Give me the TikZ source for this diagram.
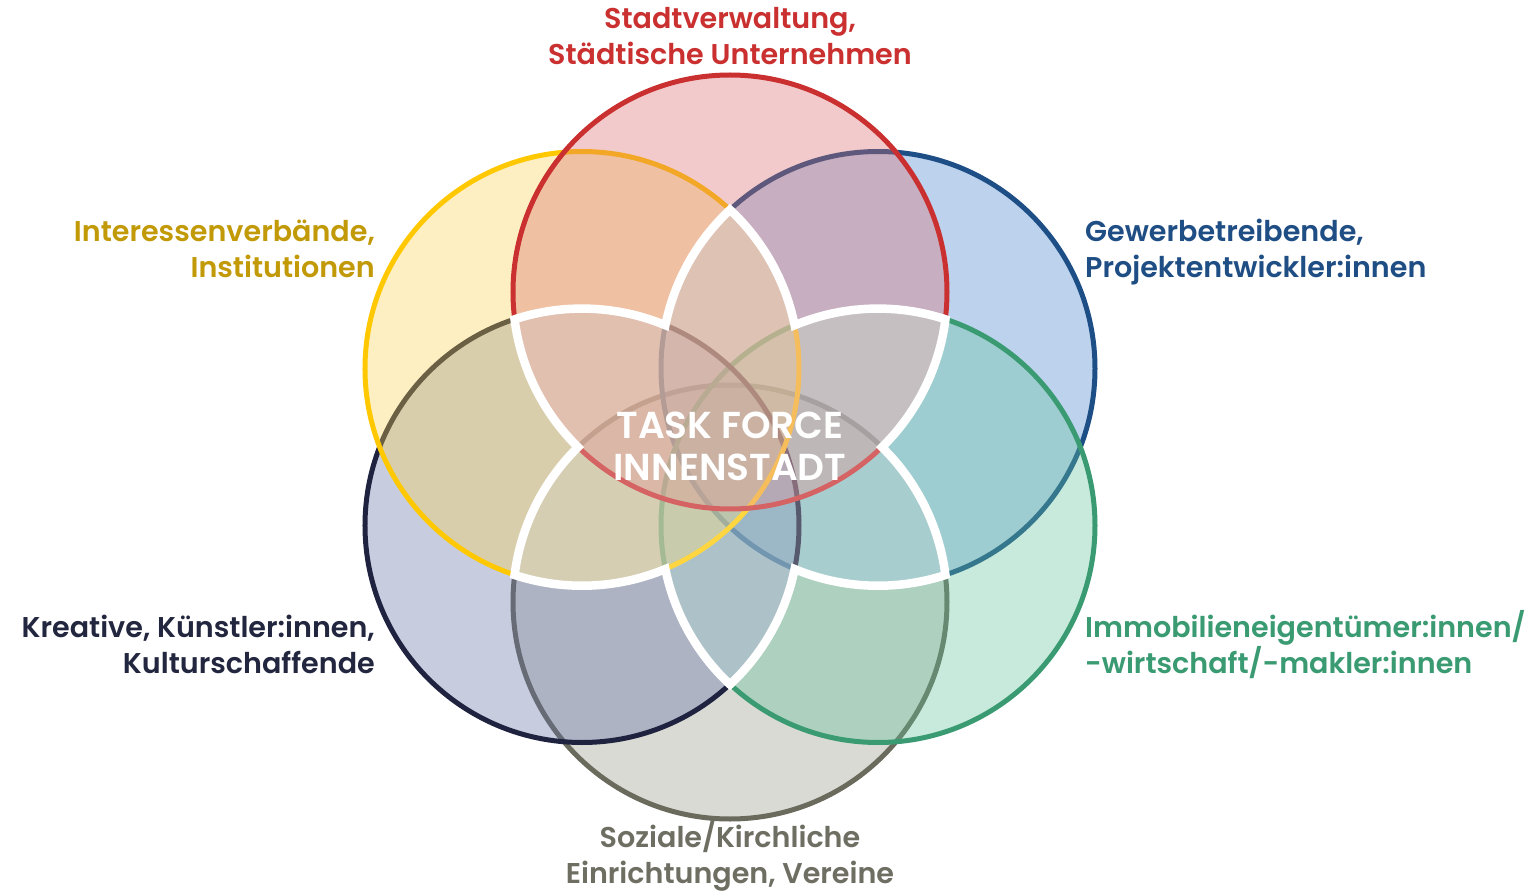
\documentclass[tikz,border=0pt]{standalone}
\usepackage{fontspec}
\newfontfamily\lab{Poppins SemiBold}
\newfontfamily\ctr{Poppins SemiBold}
\definecolor{redL}{RGB}{201,48,47}
\definecolor{yelL}{RGB}{255,200,0}
\definecolor{bluL}{RGB}{29,79,134}
\definecolor{grnL}{RGB}{58,155,114}
\definecolor{gryL}{RGB}{106,107,93}
\definecolor{navL}{RGB}{31,35,64}
\definecolor{redF}{RGB}{218,106,109}
\definecolor{yelF}{RGB}{252,212,78}
\definecolor{bluF}{RGB}{66,129,206}
\definecolor{grnF}{RGB}{98,195,155}
\definecolor{gryF}{RGB}{144,149,129}
\definecolor{navF}{RGB}{95,109,166}
\definecolor{yelT}{RGB}{194,154,8}
\definecolor{bluT}{RGB}{31,78,133}
\definecolor{gryT}{RGB}{110,111,98}
\definecolor{navT}{RGB}{34,38,62}
\begin{document}
\begin{tikzpicture}[x=1pt,y=1pt,
  ring/.style={circle, minimum size=434pt, inner sep=0pt, line width=5pt, fill opacity=0.35, draw opacity=1},
  lbl/.style={inner sep=0pt, font=\lab\fontsize{28.6}{36}\selectfont},
  starline/.style={draw=white, line width=8.5pt, line join=miter, fill=white, fill opacity=0.25, draw opacity=1}]
\useasboundingbox (-730,-447) rectangle (795,447);
\fill[white] (-730,-447) rectangle (795,447);
% circles (drawn bottom to top)
\node[ring, draw=gryL, fill=gryF] (grey)   at (0,-155) {};
\node[ring, draw=bluL, fill=bluF] (blue)   at (148,78.5) {};
\node[ring, draw=grnL, fill=grnF] (green)  at (148,-78.5) {};
\node[ring, draw=navL, fill=navF] (navy)   at (-148,-78.5) {};
\node[ring, draw=yelL, fill=yelF] (yellow) at (-148,78.5) {};
\node[ring, draw=redL, fill=redF] (red)    at (0,155) {};
% white six-pointed star
\draw[starline] (0,237.2)
 arc[start angle=133.0,end angle=168.5,radius=217]
 arc[start angle=67.4,end angle=108.1,radius=217]
 arc[start angle=187.2,end angle=225.6,radius=217]
 arc[start angle=134.4,end angle=172.8,radius=217]
 arc[start angle=251.9,end angle=292.6,radius=217]
 arc[start angle=191.5,end angle=227.0,radius=217]
 arc[start angle=313.0,end angle=348.5,radius=217]
 arc[start angle=247.4,end angle=288.1,radius=217]
 arc[start angle=7.2,end angle=45.6,radius=217]
 arc[start angle=-45.6,end angle=-7.2,radius=217]
 arc[start angle=71.9,end angle=112.6,radius=217]
 arc[start angle=11.5,end angle=47.0,radius=217]
 -- cycle;
% centre text
\node[inner sep=0pt, align=center, text=white,
      font=\ctr\fontsize{37.5}{42}\selectfont, anchor=base] (tf) at (0,-33)
  {TASK FORCE\\INNENSTADT};
% labels
\node[lbl, text=redL, align=center, anchor=base] (lt) at (0,382)
  {Stadtverwaltung,\\Städtische Unternehmen};
\node[lbl, text=yelT, align=right, anchor=base east] (ltl) at (-355,169)
  {Interessenverbände,\\Institutionen};
\node[lbl, text=bluT, align=left, anchor=base west] (ltr) at (355,169)
  {Gewerbetreibende,\\Projektentwickler:innen};
\node[lbl, text=navT, align=right, anchor=base east] (lbl) at (-355,-226)
  {Kreative, Künstler:innen,\\Kulturschaffende};
\node[lbl, text=grnL, align=left, anchor=base west] (lbr) at (355,-226)
  {Immobilieneigentümer:innen/\\-wirtschaft/-makler:innen};
\node[lbl, text=gryT, align=center, anchor=base] (lb) at (0,-436)
  {Soziale/Kirchliche\\Einrichtungen, Vereine};
\end{tikzpicture}
\end{document}
